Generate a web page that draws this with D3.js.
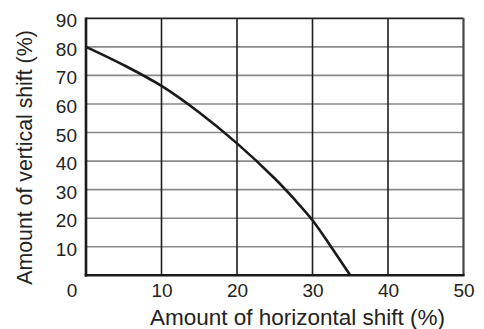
<!DOCTYPE html>
<html>
<head>
<meta charset="utf-8">
<script src="https://cdn.jsdelivr.net/npm/d3@7"></script>
<style>
  html, body { margin: 0; padding: 0; background: #fff; }
  svg { display: block; }
  text { font-family: "Liberation Sans", Arial, Helvetica, sans-serif; fill: #222; }
</style>
</head>
<body>
<script>
// Horizontal shift (%) vs. vertical shift (%) along the curve
const shiftX = [0, 5, 10, 15, 20, 25, 27.5, 30, 32.5, 35];
const shiftY = [80, 73.6, 66.3, 57, 46.2, 33.9, 26.9, 19.3, 9.8, 0];

const xTicks = [0, 10, 20, 30, 40, 50];
const yTicks = [10, 20, 30, 40, 50, 60, 70, 80, 90];
const xTitle = "Amount of horizontal shift (%)";
const yTitle = "Amount of vertical shift (%)";

const W = 484, H = 329;
const margin = { top: 18.3, right: 20.5, bottom: 53.7, left: 86 };
const innerW = W - margin.left - margin.right;
const innerH = H - margin.top - margin.bottom;

const svg = d3.select("body").append("svg").attr("width", W).attr("height", H);
const g = svg.append("g").attr("transform", `translate(${margin.left},${margin.top})`);

const x = d3.scaleLinear().domain([0, 50]).range([0, innerW]);
const y = d3.scaleLinear().domain([0, 90]).range([innerH, 0]);

// horizontal grid lines (gray)
g.append("g").selectAll("line").data(yTicks.slice(0, -1)).join("line")
  .attr("x1", 0).attr("x2", innerW)
  .attr("y1", d => y(d)).attr("y2", d => y(d))
  .attr("stroke", "#8a8a8a").attr("stroke-width", 1.6);

// vertical grid lines (dark)
g.append("g").selectAll("line").data(xTicks.slice(1, -1)).join("line")
  .attr("x1", d => x(d)).attr("x2", d => x(d))
  .attr("y1", 0).attr("y2", innerH)
  .attr("stroke", "#1e1e1e").attr("stroke-width", 1.6);

// frame
g.append("line").attr("x1", 0).attr("x2", innerW).attr("y1", 0).attr("y2", 0)
  .attr("stroke", "#222").attr("stroke-width", 1.8);
g.append("line").attr("x1", innerW).attr("x2", innerW).attr("y1", 0).attr("y2", innerH)
  .attr("stroke", "#444").attr("stroke-width", 2.2);
g.append("line").attr("x1", 0).attr("x2", 0).attr("y1", -0.9).attr("y2", innerH + 1.3)
  .attr("stroke", "#1a1a1a").attr("stroke-width", 2.6);
g.append("line").attr("x1", -1.3).attr("x2", innerW + 1.1).attr("y1", innerH).attr("y2", innerH)
  .attr("stroke", "#1a1a1a").attr("stroke-width", 2.6);

// curve
const pts = shiftX.map((v, i) => [v, shiftY[i]]);
g.append("path").datum(pts)
  .attr("fill", "none").attr("stroke", "#1a1a1a").attr("stroke-width", 2.6)
  .attr("d", d3.line().x(d => x(d[0])).y(d => y(d[1])).curve(d3.curveCatmullRom.alpha(0.5)));

// x axis labels
const xAxis = g.append("g").attr("transform", `translate(0,${innerH})`)
  .call(d3.axisBottom(x).tickValues(xTicks).tickSize(0).tickPadding(8).tickFormat(d3.format("d")));
xAxis.select(".domain").remove();
xAxis.selectAll("text").attr("font-size", 19).style("font-family", "'Liberation Sans', Arial, sans-serif").attr("fill", "#222")
  .attr("x", d => d === 0 ? -14.5 : 0);

// y axis labels
const yAxis = g.append("g")
  .call(d3.axisLeft(y).tickValues(yTicks).tickSize(0).tickPadding(9).tickFormat(d3.format("d")));
yAxis.select(".domain").remove();
yAxis.selectAll("text").attr("font-size", 19).style("font-family", "'Liberation Sans', Arial, sans-serif").attr("fill", "#222")
  .attr("dy", "0.45em");

// axis titles
svg.append("text").attr("x", 297.5).attr("y", 324.5).attr("text-anchor", "middle")
  .attr("font-size", 22.5).text(xTitle);
svg.append("text").attr("transform", "translate(32,157.5) rotate(-90)").attr("text-anchor", "middle")
  .attr("font-size", 21.3).text(yTitle);
</script>
</body>
</html>
